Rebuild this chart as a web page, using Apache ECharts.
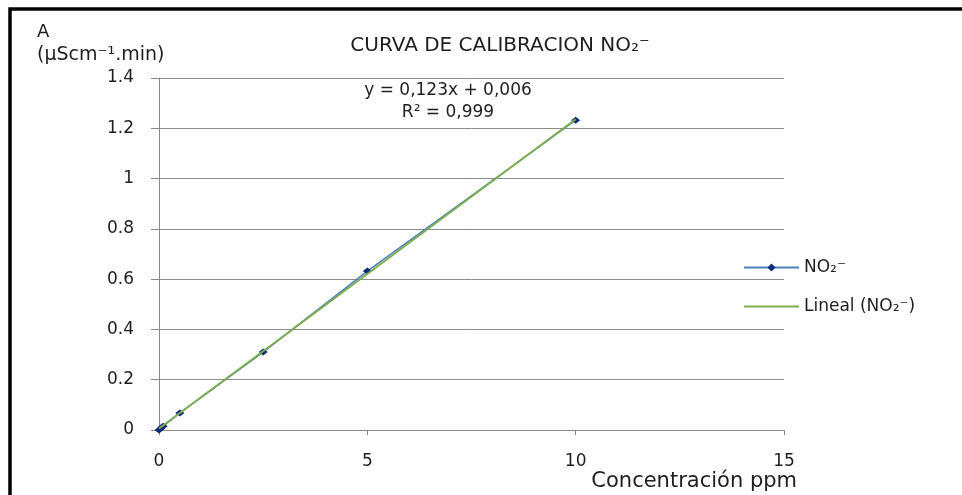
<!DOCTYPE html>
<html>
  <head>
    <meta charset="utf-8" />
    <title>Curva de calibracion</title>
    <script src="https://cdn.jsdelivr.net/npm/echarts@6.0.0/dist/echarts.min.js"></script>
  </head>
  <body style="margin:0;background:#fff">
    <div id="main" style="width: 962px;height:495px;"></div>
    <script type="text/javascript">
      // measured points (ppm, area)
      var concentracion = [0, 0.05, 0.1, 0.5, 2.5, 5, 10];
      var area = [0, 0.008, 0.015, 0.068, 0.31, 0.632, 1.232];
      // linear fit endpoints
      var trendX = [0, 10];
      var trendY = [0.006, 1.236];
      var xTicks = [0, 5, 10, 15];
      var yTicks = [0, 0.2, 0.4, 0.6, 0.8, 1, 1.2, 1.4];

      var chartDom = document.getElementById('main');
      var myChart = echarts.init(chartDom);
      var font = 'DejaVu Sans';
      var txt = '#1e1e1e';
      var option;

      option = {
        animation: false,
        textStyle: { fontFamily: font },
        title: {
          text: 'CURVA DE CALIBRACION NO\u2082\u207B',
          left: 495,
          textAlign: 'center',
          top: 31,
          textStyle: { fontFamily: font, fontSize: 20, fontWeight: 'normal', color: txt }
        },
        legend: {
          orient: 'vertical',
          left: 738,
          top: 254,
          itemWidth: 55,
          itemHeight: 10,
          itemGap: 22,
          textStyle: { fontFamily: font, fontSize: 17, color: txt },
          data: [
            { name: 'NO\u2082\u207B' },
            { name: 'Lineal (NO\u2082\u207B)', itemStyle: { opacity: 0 } }
          ]
        },
        grid: { left: 159, right: 178, top: 78, bottom: 65 },
        xAxis: {
          type: 'value',
          min: 0,
          max: 15,
          interval: 5,
          axisLine: { lineStyle: { color: '#888', width: 1 } },
          axisTick: { show: true, length: 5, lineStyle: { color: '#888' } },
          axisLabel: { fontSize: 17, color: txt, margin: 23, fontFamily: font },
          splitLine: { show: false }
        },
        yAxis: {
          type: 'value',
          min: 0,
          max: 1.4,
          interval: 0.2,
          axisLine: { show: true, lineStyle: { color: '#888', width: 1 } },
          axisTick: { show: true, length: 8, lineStyle: { color: '#888' } },
          axisLabel: {
            fontSize: 17, color: txt, margin: 25, fontFamily: font,
            formatter: function (v) { return yTicks.indexOf(+v.toFixed(1)) >= 0 ? String(+v.toFixed(1)) : ''; }
          },
          splitLine: { show: true, lineStyle: { color: '#8c8c8c', width: 1 } }
        },
        graphic: [
          {
            type: 'polyline',
            shape: { points: [[10, 495], [10, 9], [962, 9]] },
            style: { stroke: '#000', lineWidth: 3.5, fill: null }
          },
          {
            type: 'text', x: 37, y: 32,
            style: { text: 'A', fontFamily: font, fontSize: 18, fill: txt, verticalAlign: 'middle' }
          },
          {
            type: 'text', x: 37, y: 55,
            style: { text: '(\u00B5Scm\u207B\u00B9.min)', fontFamily: font, fontSize: 19, fill: txt, verticalAlign: 'middle' }
          },
          {
            type: 'text', x: 448, y: 91,
            style: { text: 'y = 0,123x + 0,006', fontFamily: font, fontSize: 17, fill: txt, align: 'center', verticalAlign: 'middle' }
          },
          {
            type: 'text', x: 448, y: 113,
            style: { text: 'R\u00B2 = 0,999', fontFamily: font, fontSize: 17, fill: txt, align: 'center', verticalAlign: 'middle' }
          },
          {
            type: 'text', x: 797, y: 482,
            style: { text: 'Concentración ppm', fontFamily: font, fontSize: 21, fill: txt, align: 'right', verticalAlign: 'middle' }
          }
        ],
        series: [
          {
            name: 'NO\u2082\u207B',
            type: 'line',
            data: concentracion.map(function (x, i) { return [x, area[i]]; }),
            symbol: 'diamond',
            symbolSize: [9, 7],
            showAllSymbol: true,
            itemStyle: { color: '#0F2A78' },
            lineStyle: { color: '#4A7EBB', width: 1.5 },
            z: 2
          },
          {
            name: 'Lineal (NO\u2082\u207B)',
            type: 'line',
            data: trendX.map(function (x, i) { return [x, trendY[i]]; }),
            symbol: 'none',
            itemStyle: { color: '#7BAE4F' },
            lineStyle: { color: '#7BAE4F', width: 2 },
            z: 3
          }
        ]
      };

      option && myChart.setOption(option);
    </script>
  </body>
</html>
